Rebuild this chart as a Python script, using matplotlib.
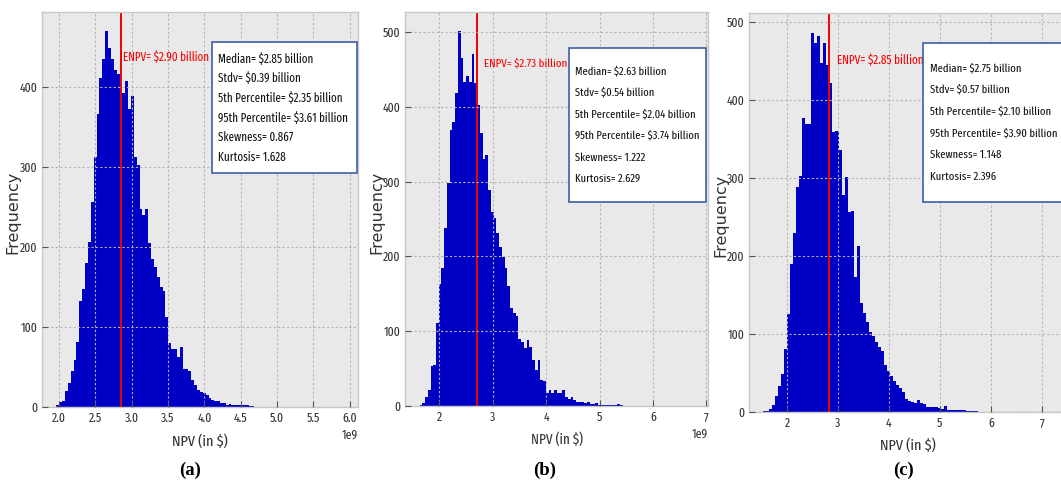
import os
import numpy as np
import matplotlib
matplotlib.use("Agg")
import matplotlib.pyplot as plt
from matplotlib import font_manager as fm
from matplotlib.font_manager import FontProperties
from matplotlib.patches import Rectangle
from matplotlib.ticker import MultipleLocator

# histogram counts, NPV in billions of $
counts_a = [3, 6, 8, 20, 30, 45, 59, 81, 132, 147, 180, 206, 257, 313, 367, 412,
            435, 470, 449, 435, 421, 416, 400, 393, 408, 373, 389, 313, 303, 248,
            240, 248, 205, 185, 175, 163, 150, 145, 113, 80, 73, 73, 63, 75, 48,
            48, 45, 34, 27, 21, 19, 18, 15, 11, 9, 7, 8, 5, 5, 3, 4, 2, 2, 2, 3,
            3, 3, 1, 1]
counts_b = [1, 4, 12, 22, 53, 55, 111, 163, 184, 238, 298, 369, 380, 419, 502,
            465, 434, 441, 434, 471, 432, 403, 365, 330, 336, 289, 260, 251, 231,
            213, 199, 184, 160, 131, 124, 120, 90, 86, 77, 88, 79, 62, 48, 62, 35,
            33, 18, 21, 18, 22, 17, 17, 22, 12, 9, 12, 8, 6, 6, 5, 4, 5, 3, 3, 4,
            1, 2, 1, 1, 2, 1, 1, 3, 1]
counts_c = [1, 1, 4, 9, 20, 33, 49, 81, 126, 190, 229, 288, 302, 377, 369, 369,
            486, 472, 481, 447, 473, 445, 421, 359, 360, 335, 278, 301, 256, 258,
            173, 212, 140, 127, 115, 103, 97, 90, 83, 78, 60, 53, 46, 40, 35, 31,
            26, 17, 14, 13, 12, 15, 12, 10, 7, 6, 6, 6, 5, 4, 8, 2, 3, 3, 2, 2, 2,
            1, 1, 1, 1]
bin_start = [1.964, 1.63, 1.525]
bin_width = [0.0395, 0.0514, 0.0594]

enpv_line = [2.85, 2.70, 2.83]
enpv_labels = ["ENPV= $2.90 billion", "ENPV= $2.73 billion", "ENPV= $2.85 billion"]
stats = [
    ["Median= $2.85 billion", "Stdv= $0.39 billion", "5th Percentile= $2.35 billion",
     "95th Percentile= $3.61 billion", "Skewness= 0.867", "Kurtosis= 1.628"],
    ["Median= $2.63 billion", "Stdv= $0.54 billion", "5th Percentile= $2.04 billion",
     "95th Percentile= $3.74 billion", "Skewness= 1.222", "Kurtosis= 2.629"],
    ["Median= $2.75 billion", "Stdv= $0.57 billion", "5th Percentile= $2.10 billion",
     "95th Percentile= $3.90 billion", "Skewness= 1.148", "Kurtosis= 2.396"],
]
panel_labels = ["(a)", "(b)", "(c)"]
xlims = [(1.766, 6.115), (1.358, 7.03), (1.253, 7.79)]
ymax = [494, 527, 511]
xstep = [0.5, 1.0, 1.0]

# layout in pixels (x from left, y from top)
W, H = 1061, 480
axes_px = [(42, 12, 358, 407), (405, 12, 708, 406), (749, 13, 1082, 412)]
box_px = [(212, 42, 357, 173), (569, 48, 706, 202), (923, 43, 1080, 202)]
text_px = [(218, 59, 19.6), (575, 71, 21.6), (930, 68, 21.8)]
stats_w = [130, 124, 127]      # pixel width of the longest stats line
enpv_px = [(123, 57), (484, 63), (837, 60)]
enpv_w = [86, 83, 86]
ylab_px = [13, 377, 721]
xlab_px = [(200, 442), (557, 440), (908, 446)]
xlab_w = [56, 52, 56]
cap_px = [190, 545, 903]

BLUE = "#0000c4"


def narrow_font():
    # the screenshot is squeezed sideways, so look for the most condensed face
    order = ["Liberation Sans Narrow", "Roboto Condensed", "Noto Sans", "DejaVu Sans",
             "Open Sans", "Roboto", "Liberation Sans", "Lato"]
    best = None
    for f in fm.fontManager.ttflist:
        if f.style != "normal" or f.weight not in (400, "normal", "regular", "book"):
            continue
        tag = (f.name + os.path.basename(f.fname)).replace(" ", "")
        if "Mono" in tag or "Serif" in tag or "CJK" in tag or "Display" in tag:
            continue
        if "ExtraCondensed" in tag:
            level = 0
        elif "SemiCondensed" in tag:
            level = 2
        elif "Condensed" in tag or "Narrow" in tag or f.stretch == "condensed":
            level = 1
        else:
            continue
        rank = next((k for k, n in enumerate(order) if f.name.startswith(n)), 99)
        key = (level, rank)
        if best is None or key < best[0]:
            best = (key, f.fname)
    if best is None:
        return FontProperties(family="Roboto")
    return FontProperties(fname=best[1])


NARROW = narrow_font()


def fx(x):
    return x / W


def fy(y):
    return 1 - y / H


fig = plt.figure(figsize=(W / 100, H / 100), dpi=100)
renderer = fig.canvas.get_renderer()


def fit(txt, width):
    # scale a text so that its drawn width matches the reference
    w = txt.get_window_extent(renderer).width
    size = txt.get_fontsize() * width / w
    txt.set_fontsize(size)
    return size


# tick label size from "400" being ~17 px wide
tmp = fig.text(0, 0, "400", fontproperties=NARROW, fontsize=10)
tick_size = fit(tmp, 18)
tmp.remove()

counts_all = [counts_a, counts_b, counts_c]

for i in range(3):
    l, t, r, b = axes_px[i]
    ax = fig.add_axes([fx(l), fy(b), (r - l) / W, (b - t) / H])
    ax.set_facecolor("#e9e9e9")

    counts = np.array(counts_all[i], dtype=float)
    edges = (bin_start[i] + bin_width[i] * np.arange(len(counts) + 1)) * 1e9
    ax.hist(edges[:-1], bins=edges, weights=counts, color=BLUE, linewidth=0)
    ax.axvline(enpv_line[i] * 1e9, color="#f00000", lw=1.4)

    ax.set_xlim(xlims[i][0] * 1e9, xlims[i][1] * 1e9)
    ax.set_ylim(0, ymax[i])
    ax.xaxis.set_major_locator(MultipleLocator(xstep[i] * 1e9))
    ax.yaxis.set_major_locator(MultipleLocator(100))
    ax.grid(True, color="#b4b4b4", linestyle=(0, (2, 2)), linewidth=0.8)
    ax.set_axisbelow(False)
    for s in ax.spines.values():
        s.set_color("#c8c8c8")
        s.set_linewidth(1)
    ax.tick_params(direction="in", length=4, color="#555555", labelcolor="#333333")
    ax.tick_params(axis="x", pad=4)
    ax.tick_params(axis="y", pad=3)
    for lab in ax.get_xticklabels() + ax.get_yticklabels():
        lab.set_fontproperties(NARROW)
        lab.set_fontsize(tick_size)
    off = ax.xaxis.get_offset_text()
    off.set_fontproperties(NARROW)
    off.set_fontsize(tick_size)
    off.set_color("#333333")

    # stats box
    bl, bt, br, bb = box_px[i]
    fig.patches.append(Rectangle((fx(bl), fy(bb)), (br - bl) / W, (bb - bt) / H,
                                 transform=fig.transFigure, facecolor="white",
                                 edgecolor="#3a5fa8", linewidth=1.2, zorder=5))
    tx, ty, step = text_px[i]
    lines = [fig.text(fx(tx), fy(ty + k * step), line, fontproperties=NARROW,
                      fontsize=10, color="#111111", ha="left", va="center", zorder=6)
             for k, line in enumerate(stats[i])]
    size = fit(lines[3], stats_w[i])
    for tl in lines:
        tl.set_fontsize(size)

    ex, ey = enpv_px[i]
    et = fig.text(fx(ex), fy(ey), enpv_labels[i], fontproperties=NARROW,
                  fontsize=10, color="#ff0000", ha="left", va="center")
    fit(et, enpv_w[i])

    fig.text(fx(ylab_px[i]), fy((t + b) / 2 + 3), "Frequency", rotation=90,
             fontsize=11.5, color="#333333", ha="center", va="center")
    xl, yl = xlab_px[i]
    nt = fig.text(fx(xl), fy(yl), "NPV (in $)", fontproperties=NARROW,
                  fontsize=11, color="#333333", ha="center", va="center")
    fit(nt, xlab_w[i])
    fig.text(fx(cap_px[i]), fy(470), panel_labels[i], family="Liberation Serif",
             fontweight="bold", fontsize=13.5, ha="center", va="center")

fig.savefig("out.png", dpi=100)
